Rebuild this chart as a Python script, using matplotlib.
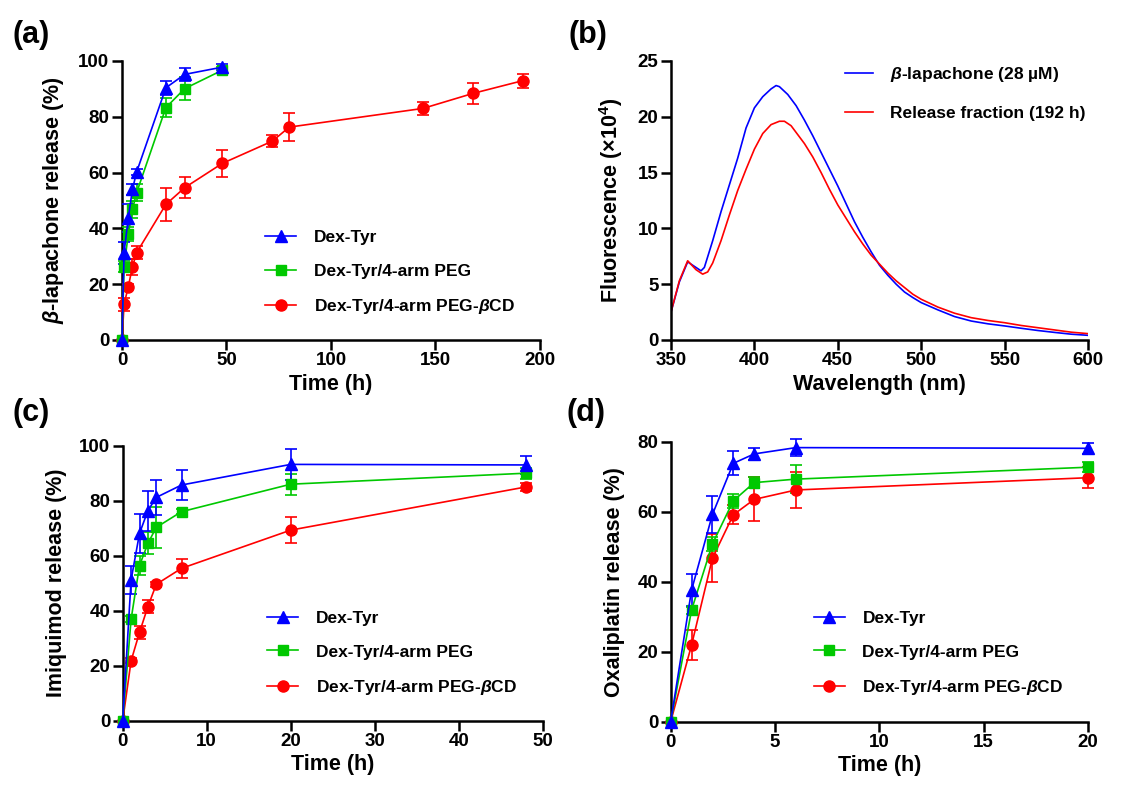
import matplotlib
matplotlib.use('Agg')
import matplotlib.pyplot as plt
import numpy as np

plt.rcParams['font.family'] = ['Liberation Sans', 'DejaVu Sans']
plt.rcParams['font.weight'] = 'bold'
plt.rcParams['mathtext.fontset'] = 'custom'
plt.rcParams['mathtext.rm'] = 'Liberation Sans:bold'
plt.rcParams['mathtext.bf'] = 'Liberation Sans:bold'
plt.rcParams['mathtext.it'] = 'Liberation Sans:italic:bold'
plt.rcParams['mathtext.bfit'] = 'Liberation Sans:italic:bold'

# ---- panel (a): beta-lapachone release ----
t_a = [0, 1, 3, 5, 7, 21, 30, 48]
a_tyr = [0, 31.3, 43.8, 54.0, 60.2, 90.4, 95.2, 97.8]
a_tyr_err = [0, 4.0, 5.0, 2.0, 1.0, 2.5, 2.4, 1.0]
a_peg = [0, 26.3, 37.9, 46.8, 52.8, 83.3, 90.1, 96.7]
a_peg_err = [0, 2.0, 2.5, 3.0, 3.0, 3.5, 4.2, 1.0]
t_a_cd = [0, 1, 3, 5, 7, 21, 30, 48, 72, 80, 144, 168, 192]
a_cd = [0, 12.8, 19.1, 26.2, 31.3, 48.6, 54.6, 63.3, 71.3, 76.3, 83.0, 88.4, 93.0]
a_cd_err = [0, 2.4, 1.0, 3.0, 2.4, 5.9, 3.8, 4.8, 2.0, 5.0, 2.2, 3.8, 2.5]

# ---- panel (b): fluorescence spectra ----
wl_lap = [350, 355, 360, 365, 368, 370, 375, 380, 385, 390, 395, 400, 405, 410, 413,
          415, 420, 425, 430, 435, 440, 445, 450, 455, 460, 465, 470, 475, 480, 485,
          490, 495, 500, 510, 520, 530, 540, 550, 560, 570, 580, 590, 600]
fl_lap = [2.5, 5.2, 7.0, 6.5, 6.2, 6.5, 8.9, 11.5, 13.9, 16.3, 19.0, 20.8, 21.8, 22.5, 22.8,
          22.7, 22.0, 21.0, 19.7, 18.3, 16.8, 15.3, 13.8, 12.2, 10.6, 9.2, 7.9, 6.7, 5.8, 5.0,
          4.3, 3.8, 3.35, 2.7, 2.1, 1.7, 1.45, 1.26, 1.05, 0.85, 0.68, 0.52, 0.42]
wl_rel = [350, 355, 360, 365, 369, 372, 375, 380, 385, 390, 395, 400, 405, 410, 415,
          418, 422, 425, 430, 435, 440, 445, 450, 455, 460, 465, 470, 475, 480, 485,
          490, 495, 500, 510, 520, 530, 540, 550, 560, 570, 580, 590, 600]
fl_rel = [2.5, 5.3, 7.1, 6.3, 5.9, 6.1, 6.9, 8.9, 11.2, 13.4, 15.3, 17.1, 18.5, 19.3, 19.6,
          19.6, 19.2, 18.6, 17.6, 16.4, 15.0, 13.5, 12.1, 10.9, 9.7, 8.6, 7.6, 6.8, 6.0, 5.3,
          4.7, 4.1, 3.65, 2.95, 2.4, 2.0, 1.75, 1.55, 1.3, 1.1, 0.9, 0.7, 0.57]

# ---- panel (c): imiquimod release ----
t_c = [0, 1, 2, 3, 4, 7, 20, 48]
c_tyr = [0, 51.2, 68.1, 76.4, 81.2, 85.7, 93.2, 93.0]
c_tyr_err = [0, 5.0, 7.0, 7.3, 6.4, 5.5, 5.6, 3.3]
c_peg = [0, 36.9, 56.4, 64.5, 70.3, 76.0, 86.0, 90.0]
c_peg_err = [0, 1.0, 3.5, 4.0, 7.5, 1.0, 3.8, 2.0]
c_cd = [0, 21.8, 32.1, 41.5, 49.6, 55.4, 69.3, 85.0]
c_cd_err = [0, 1.0, 2.4, 2.4, 1.0, 3.4, 4.7, 1.5]

# ---- panel (d): oxaliplatin release ----
t_d = [0, 1, 2, 3, 4, 6, 20]
d_tyr = [0, 37.6, 59.2, 73.8, 76.5, 78.3, 78.1]
d_tyr_err = [0, 4.5, 5.2, 3.4, 1.8, 2.4, 1.5]
d_peg = [0, 31.9, 50.8, 63.1, 68.3, 69.3, 72.7]
d_peg_err = [0, 1.0, 2.0, 2.0, 1.5, 4.1, 1.4]
d_cd = [0, 21.9, 46.7, 59.1, 63.5, 66.2, 69.7]
d_cd_err = [0, 4.2, 6.9, 2.7, 6.3, 5.2, 3.0]

labels = ['Dex-Tyr', 'Dex-Tyr/4-arm PEG', r'Dex-Tyr/4-arm PEG-$\mathbfit{\beta}$CD']
BLUE, GREEN, RED = '#0000FF', '#00C800', '#FF0000'

fig = plt.figure(figsize=(11.25, 7.94), dpi=100)


def style(ax):
    for s in ['top', 'right']:
        ax.spines[s].set_visible(False)
    for s in ['left', 'bottom']:
        ax.spines[s].set_linewidth(1.8)
    ax.tick_params(width=1.8, length=7, labelsize=13.5, pad=2)
    for lab in ax.get_xticklabels() + ax.get_yticklabels():
        lab.set_fontweight('bold')


def release(ax, series):
    handles = []
    # draw red first so blue sits on top
    for t, y, e, c, m, ms in series[::-1]:
        h = ax.errorbar(t, y, yerr=e, color=c, marker=m, ms=ms, lw=1.2, elinewidth=1.2,
                        capsize=4, capthick=1.2, clip_on=False, zorder=3)
        h.lines[0].set_clip_on(False)
        for art in list(h.lines[1]) + list(h.lines[2]):
            art.set_clip_on(False)
        handles.append(h)
    return handles[::-1]


def legend3(ax, handles, x, y):
    hs = [h.lines[0] for h in handles]
    ax.legend(hs, labels, loc='center left', bbox_to_anchor=(x, y), frameon=False,
              borderpad=0, borderaxespad=0, handlelength=1.8,
              handletextpad=1.0, labelspacing=1.05, prop={'weight': 'bold', 'size': 12.5})


# (a)
ax = fig.add_axes([0.10844, 0.57179, 0.37156, 0.35139])
hs = release(ax, [(t_a, a_tyr, a_tyr_err, BLUE, '^', 9),
                  (t_a, a_peg, a_peg_err, GREEN, 's', 7.5),
                  (t_a_cd, a_cd, a_cd_err, RED, 'o', 8)])
ax.set_xlim(0, 200)
ax.set_ylim(0, 100)
ax.set_xticks(np.arange(0, 201, 50))
ax.set_yticks(np.arange(0, 101, 20))
ax.set_xlabel('Time (h)', fontsize=15.5, fontweight='bold', labelpad=3)
ax.set_ylabel(r'$\mathbfit{\beta}$-lapachone release (%)', fontsize=15.5, fontweight='bold', labelpad=9)
style(ax)
legend3(ax, hs, 0.342, 0.240)

# (b)
ax = fig.add_axes([0.59644, 0.57179, 0.37067, 0.35139])
ax.plot(wl_lap, fl_lap, color=BLUE, lw=1.2, label=r'$\mathbfit{\beta}$-lapachone (28 µM)')
ax.plot(wl_rel, fl_rel, color=RED, lw=1.2, label='Release fraction (192 h)')
ax.set_xlim(350, 600)
ax.set_ylim(0, 25)
ax.set_xticks(np.arange(350, 601, 50))
ax.set_yticks(np.arange(0, 26, 5))
ax.set_xlabel('Wavelength (nm)', fontsize=15.5, fontweight='bold', labelpad=3)
ax.set_ylabel(r'Fluorescence (×10$^{\mathbf{4}}$)', fontsize=15.5, fontweight='bold', labelpad=9)
style(ax)
ax.legend(loc='center left', bbox_to_anchor=(0.417, 0.886), frameon=False, borderpad=0,
          borderaxespad=0, handlelength=1.6, handletextpad=1.0, labelspacing=1.25,
          prop={'weight': 'bold', 'size': 12.5})

# (c)
ax = fig.add_axes([0.10907, 0.09232, 0.37333, 0.34635])
hs = release(ax, [(t_c, c_tyr, c_tyr_err, BLUE, '^', 9),
                  (t_c, c_peg, c_peg_err, GREEN, 's', 7.5),
                  (t_c, c_cd, c_cd_err, RED, 'o', 8)])
ax.set_xlim(0, 50)
ax.set_ylim(0, 100)
ax.set_xticks(np.arange(0, 51, 10))
ax.set_yticks(np.arange(0, 101, 20))
ax.set_xlabel('Time (h)', fontsize=15.5, fontweight='bold', labelpad=3)
ax.set_ylabel('Imiquimod release (%)', fontsize=15.5, fontweight='bold', labelpad=9)
style(ax)
legend3(ax, hs, 0.344, 0.243)

# (d)
ax = fig.add_axes([0.59618, 0.0911, 0.37093, 0.35264])
hs = release(ax, [(t_d, d_tyr, d_tyr_err, BLUE, '^', 9),
                  (t_d, d_peg, d_peg_err, GREEN, 's', 7.5),
                  (t_d, d_cd, d_cd_err, RED, 'o', 8)])
ax.set_xlim(0, 20)
ax.set_ylim(0, 80)
ax.set_xticks(np.arange(0, 21, 5))
ax.set_yticks(np.arange(0, 81, 20))
ax.set_xlabel('Time (h)', fontsize=15.5, fontweight='bold', labelpad=3)
ax.set_ylabel('Oxaliplatin release (%)', fontsize=15.5, fontweight='bold', labelpad=9)
style(ax)
legend3(ax, hs, 0.343, 0.242)

# panel letters
for x, y, s in [(12, 20, '(a)'), (568, 20, '(b)'), (12, 398, '(c)'), (566, 398, '(d)')]:
    fig.text(x / 1125, 1 - y / 794, s, fontsize=22, fontweight='bold', va='top', ha='left')

fig.savefig('out.png', dpi=100)
